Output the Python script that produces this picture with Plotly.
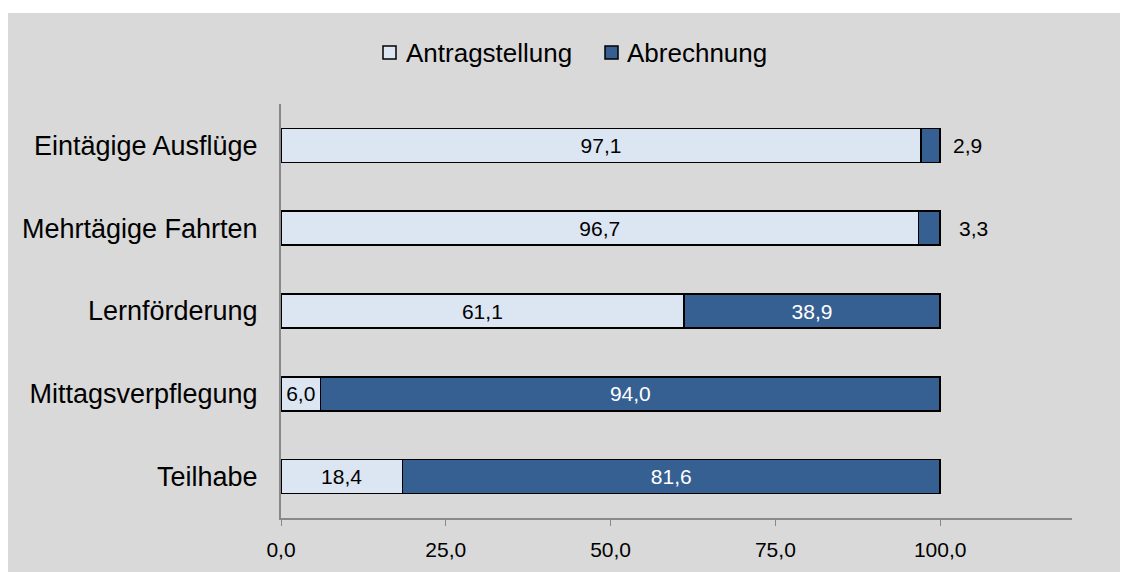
import plotly.graph_objects as go

categories = ["Eintägige Ausflüge", "Mehrtägige Fahrten", "Lernförderung", "Mittagsverpflegung", "Teilhabe"]
antrag = [97.1, 96.7, 61.1, 6.0, 18.4]
abrechnung = [2.9, 3.3, 38.9, 94.0, 81.6]
series_names = ["Antragstellung", "Abrechnung"]
x_ticks = [0, 25, 50, 75, 100]
x_tick_labels = ["0,0", "25,0", "50,0", "75,0", "100,0"]

def de(v):
    return f"{v:.1f}".replace(".", ",")

FONT = "Liberation Sans, Arial, sans-serif"
light = "#dce6f2"
dark = "#376092"
W, H = 1120, 564
L, R, T, B = 273, 56, 96, 54
PW, PH = W - L - R, H - T - B

def px(X):
    return (X - L) / PW

def py(Y):
    return (H - B - Y) / PH

inside_dark = [de(v) if v >= 10 else "" for v in abrechnung]

fig = go.Figure()
fig.add_trace(go.Bar(
    y=categories, x=antrag, orientation="h", name=series_names[0],
    marker=dict(color=light, line=dict(color="black", width=1.5)),
    text=[de(v) for v in antrag], textposition="inside", insidetextanchor="middle",
    textfont=dict(color="black", size=21, family=FONT), constraintext="none",
    showlegend=False,
))
fig.add_trace(go.Bar(
    y=categories, x=abrechnung, orientation="h", name=series_names[1],
    marker=dict(color=dark, line=dict(color="black", width=1.5)),
    text=inside_dark, textposition="inside", insidetextanchor="middle",
    textfont=dict(color="white", size=21, family=FONT), constraintext="none",
    showlegend=False,
))

shifts = [11, 17]
for i, v in enumerate(abrechnung):
    if v < 10:
        fig.add_annotation(x=antrag[i] + v, y=categories[i], text=de(v), showarrow=False,
                           xanchor="left", xshift=shifts[i] if i < len(shifts) else 11,
                           font=dict(size=21, color="black", family=FONT))

# manual legend (square swatch directly before the text)
legend_items = [(series_names[0], light, 375, 396), (series_names[1], dark, 597, 617)]
for name, col, sx, tx in legend_items:
    fig.add_shape(type="rect", xref="paper", yref="paper",
                  x0=px(sx), x1=px(sx + 13), y0=py(38), y1=py(51),
                  fillcolor=col, line=dict(color="black", width=1.5))
    fig.add_annotation(xref="paper", yref="paper", x=px(tx), y=py(45), text=name,
                       showarrow=False, xanchor="left", yanchor="middle",
                       font=dict(size=26, color="black", family=FONT))

# white strip at the very top of the page
fig.add_shape(type="rect", xref="paper", yref="paper",
              x0=px(0), x1=px(W), y0=py(5), y1=py(0),
              fillcolor="white", line=dict(width=0), layer="below")

fig.update_layout(
    barmode="stack", bargap=0.59,
    width=W, height=H,
    paper_bgcolor="#d9d9d9", plot_bgcolor="#d9d9d9",
    margin=dict(l=L, r=R, t=T, b=B),
    font=dict(family=FONT, color="black"),
    showlegend=False,
    xaxis=dict(range=[0, 120], tickvals=x_ticks, ticktext=x_tick_labels,
               showgrid=False, zeroline=False, showline=True, linecolor="#898989", linewidth=2,
               ticks="outside", ticklen=6, tickcolor="#898989", tickwidth=1,
               ticklabelstandoff=6,
               tickfont=dict(size=21, family=FONT)),
    yaxis=dict(autorange="reversed", showgrid=False, zeroline=False, showline=True,
               linecolor="#898989", linewidth=2, ticks="", ticklabelstandoff=16,
               tickfont=dict(size=27, family=FONT)),
)

fig.write_html("out.html", post_script="document.body.style.overflow='hidden';")
